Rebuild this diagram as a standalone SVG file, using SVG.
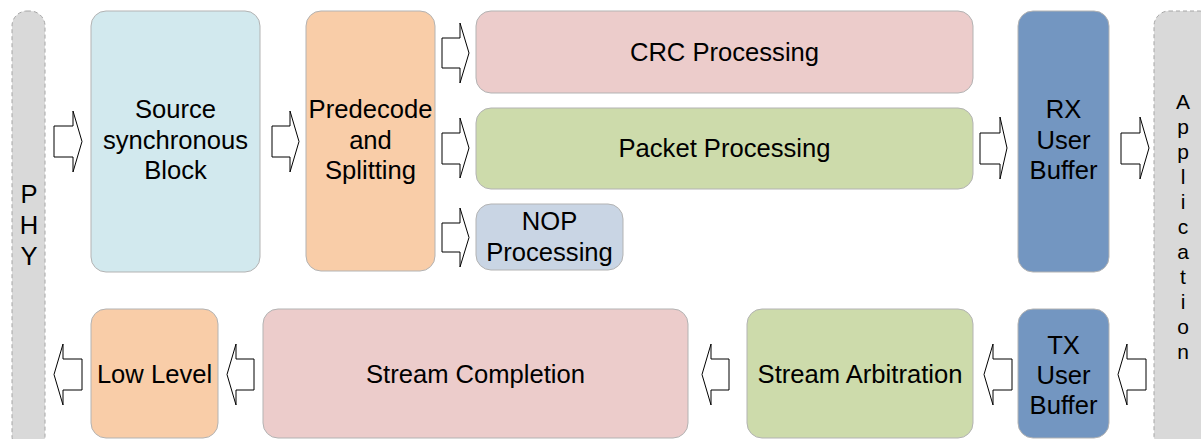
<svg xmlns="http://www.w3.org/2000/svg" width="1201" height="439" viewBox="0 0 1201 439">
<style>
.box{stroke:#b3b3b3;stroke-width:1}
.bar{fill:#d9d9d9;stroke:#a6a6a6;stroke-width:1;stroke-dasharray:4 3}
.t{font-family:"Liberation Sans",Arial,sans-serif;font-size:25.6px;fill:#000;text-anchor:middle}
.ts{font-family:"Liberation Sans",Arial,sans-serif;font-size:21px;fill:#000;text-anchor:middle}
.arr{fill:#fff;stroke:#000;stroke-width:1;stroke-linejoin:miter}
</style>
<rect width="1201" height="439" fill="#fff"/>
<g id="phy">
<rect class="bar" x="12" y="11" width="33" height="440" rx="15"/>
<text class="t"><tspan x="29" y="203">P</tspan><tspan x="29" y="234">H</tspan><tspan x="29" y="265">Y</tspan></text>
</g>
<g id="application">
<rect class="bar" x="1154" y="11" width="60" height="440" rx="15"/>
<text class="ts"><tspan x="1183" y="109">A</tspan><tspan x="1183" y="134">p</tspan><tspan x="1183" y="159">p</tspan><tspan x="1183" y="184">l</tspan><tspan x="1183" y="209">i</tspan><tspan x="1183" y="234">c</tspan><tspan x="1183" y="259">a</tspan><tspan x="1183" y="284">t</tspan><tspan x="1183" y="309">i</tspan><tspan x="1183" y="334">o</tspan><tspan x="1183" y="359">n</tspan></text>
</g>
<g id="source">
<rect class="box" x="91" y="11" width="169" height="261" rx="15" fill="#d2e9ee"/>
<text class="t"><tspan x="175.5" y="118">Source</tspan><tspan x="175.5" y="148.5">synchronous</tspan><tspan x="175.5" y="179">Block</tspan></text>
</g>
<g id="predecode">
<rect class="box" x="306" y="11" width="129" height="260" rx="15" fill="#f9cda8"/>
<text class="t"><tspan x="370.5" y="118">Predecode</tspan><tspan x="370.5" y="148.5">and</tspan><tspan x="370.5" y="179">Splitting</tspan></text>
</g>
<g id="crc">
<rect class="box" x="476" y="11" width="497" height="82" rx="15" fill="#eccccb"/>
<text class="t" x="724.5" y="60.5">CRC Processing</text>
</g>
<g id="packet">
<rect class="box" x="476" y="108" width="497" height="81" rx="15" fill="#cddbab"/>
<text class="t" x="724.5" y="156.5">Packet Processing</text>
</g>
<g id="nop">
<rect class="box" x="476" y="204" width="147" height="66" rx="15" fill="#c9d5e4"/>
<text class="t"><tspan x="549.5" y="230">NOP</tspan><tspan x="549.5" y="261">Processing</tspan></text>
</g>
<g id="rx">
<rect class="box" x="1018" y="11" width="91" height="261" rx="15" fill="#7396c1"/>
<text class="t"><tspan x="1063.5" y="118">RX</tspan><tspan x="1063.5" y="148.5">User</tspan><tspan x="1063.5" y="179">Buffer</tspan></text>
</g>
<g id="lowlevel">
<rect class="box" x="91" y="309" width="127" height="129" rx="15" fill="#f9cda8"/>
<text class="t" x="154.5" y="383">Low Level</text>
</g>
<g id="completion">
<rect class="box" x="263" y="309" width="425" height="129" rx="15" fill="#eccccb"/>
<text class="t" x="475.5" y="383">Stream Completion</text>
</g>
<g id="arbitration">
<rect class="box" x="747" y="309" width="226" height="129" rx="15" fill="#cddbab"/>
<text class="t" x="860" y="383">Stream Arbitration</text>
</g>
<g id="tx">
<rect class="box" x="1018" y="309" width="91" height="129" rx="15" fill="#7396c1"/>
<text class="t"><tspan x="1063.5" y="354">TX</tspan><tspan x="1063.5" y="384">User</tspan><tspan x="1063.5" y="414">Buffer</tspan></text>
</g>
<g id="connectors">
<path class="arr" d="M54,126 H73 V111 L82,141.5 L73,172 V157 H54 Z"/>
<path class="arr" d="M272,126 H290 V111 L299,141.5 L290,172 V157 H272 Z"/>
<path class="arr" d="M442,38 H460 V23 L469,53 L460,83 V68 H442 Z"/>
<path class="arr" d="M442,133 H460 V118 L469,148 L460,178 V164 H442 Z"/>
<path class="arr" d="M442,223 H460 V208 L469,237.5 L460,267 V252 H442 Z"/>
<path class="arr" d="M980,133 H1000 V117 L1007,148 L1000,179 V164 H980 Z"/>
<path class="arr" d="M1121,133 H1140 V117 L1149,148 L1140,179 V164 H1121 Z"/>
<path class="arr" d="M82,359 H63 V344 L54,374.5 L63,405 V390 H82 Z"/>
<path class="arr" d="M254,359 H236 V344 L227,374.5 L236,405 V390 H254 Z"/>
<path class="arr" d="M729,359 H711 V344 L702,374.5 L711,405 V390 H729 Z"/>
<path class="arr" d="M1012,359 H993 V344 L984,374.5 L993,405 V390 H1012 Z"/>
<path class="arr" d="M1146,359 H1127 V344 L1118,374.5 L1127,405 V390 H1146 Z"/>
</g>
</svg>
